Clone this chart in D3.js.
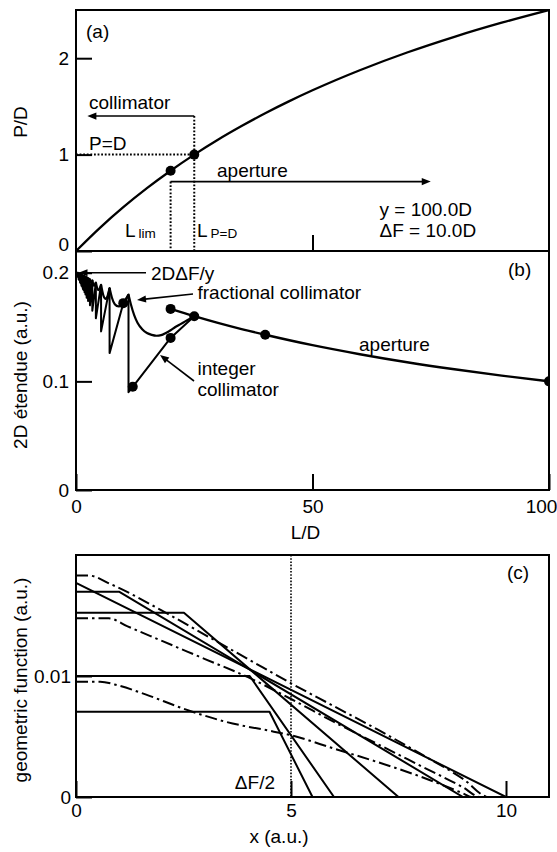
<!DOCTYPE html>
<html><head><meta charset="utf-8">
<script src="https://cdn.jsdelivr.net/npm/d3@7"></script>
<style>body{margin:0;background:#fff}</style>
</head><body>
<svg id="chart" width="557" height="852"></svg>
<script>
// ---------- DATA ----------
// Panel (a): P/D vs L/D
const ldA = [0,5,10,15,20,25,30,35,40,45,50,60,70,80,90,100];
const pdA = [0,0.238,0.455,0.652,0.833,1.0,1.154,1.296,1.429,1.552,1.667,1.875,2.059,2.222,2.368,2.5];
const dotA_L = [20,25];
const dotA_P = [0.833,1.0];
const tickA_Y = [0,1,2], tickA_Ylab = ['0','1','2'];
const tickA_X = [50];

// Panel (b): 2D etendue vs L/D
const apL = [20,25,30,35,40,50,60,70,80,90,100];
const apE = [0.1667,0.160,0.1538,0.1481,0.1429,0.1333,0.125,0.1176,0.1111,0.1053,0.100];
const apDotL = [20,25,40,100];
const apDotE = [0.1667,0.160,0.1429,0.100];
const intL = [0,0.25,0.25,0.4,0.4,0.55,0.55,0.7,0.7,0.85,0.85,1.0,1.0,1.15,1.15,1.3,1.3,1.45,1.45,1.6,1.6,1.8,1.8,2.0,2.0,2.25,2.25,2.55,2.55,2.95,2.95,3.45,3.45,4.2,4.2,5.3,5.3,7.1,7.1,10,11.1,11.1,12,20,25];
const intE = [0.2,0.2,0.197,0.2,0.196,0.199,0.194,0.199,0.193,0.199,0.191,0.198,0.190,0.198,0.188,0.198,0.187,0.197,0.185,0.197,0.184,0.197,0.182,0.196,0.180,0.196,0.177,0.195,0.174,0.194,0.170,0.193,0.165,0.191,0.158,0.189,0.146,0.186,0.126,0.172,0.180,0.090,0.095,0.140,0.160];
const intDotL = [10,12,20];
const intDotE = [0.172,0.095,0.140];
const fracL = [0,1.0,2.0,2.95,3.2,3.45,3.8,4.2,4.7,5.3,5.8,6.3,6.7,7.1,7.6,8.2,9.0,9.8,10.5,11.1,11.6,12.3,13,14,15,16,17,18,19,20,21,22,23,24,25];
const fracE = [0.2,0.198,0.196,0.194,0.191,0.193,0.188,0.191,0.184,0.189,0.179,0.176,0.179,0.186,0.177,0.171,0.169,0.170,0.175,0.180,0.171,0.161,0.154,0.148,0.1445,0.1428,0.142,0.1425,0.1445,0.147,0.150,0.1525,0.155,0.1575,0.160];
const fracCusps = [2.95,3.45,4.2,5.3,7.1,11.1];
const tickB_Y = [0,0.1,0.2], tickB_Ylab = ['0','0.1','0.2'];
const tickB_X = [0,50,100], tickB_Xlab = ['0','50','100'];

// Panel (c): geometric function vs x
const solidH = [0.00705,0.0100,0.01523,0.01697,0.0177];
const solidA = [4.5,4.04,2.51,1.0,0];
const solidB = [5.5,6.0,7.5,9.0,10];
const dd1X = [0,0.3,0.8,2,3,4,5,6,7,8,9,9.6,11];
const dd1Y = [0.0183,0.0183,0.0176,0.0154,0.0134,0.0114,0.0094,0.0075,0.0056,0.0036,0.0015,0,0];
const dd2X = [0,0.76,1.2,2,3,4,5,6,7,8,9,9.4,11];
const dd2Y = [0.01477,0.01477,0.0141,0.0129,0.0114,0.0099,0.0081,0.0062,0.0044,0.0026,0.0008,0,0];
const dd3X = [0,0.56,1,1.6,2.5,3.5,4.6,5,6,7,8,9,9.2,11];
const dd3Y = [0.00953,0.00953,0.0092,0.0085,0.0073,0.0062,0.0054,0.0051,0.0040,0.0029,0.0017,0.0003,0,0];
const tickC_Y = [0,0.01], tickC_Ylab = ['0','0.01'];
const tickC_X = [0,5,10], tickC_Xlab = ['0','5','10'];

// ---------- LAYOUT ----------
const FONT = '"Liberation Sans", Arial, Helvetica, sans-serif';
const FS = 19;
const L = 76, R = 549;
const pa = {top:10, bottom:251}, pb = {top:251, bottom:490}, pc = {top:555, bottom:797};

const xL = d3.scaleLinear().domain([0,100]).range([L,R]);
const yA = d3.scaleLinear().domain([0,2.5]).range([pa.bottom,pa.top]);
const yB = d3.scaleLinear().domain([0,0.22]).range([pb.bottom,pb.top]);
const xC = d3.scaleLinear().domain([0,11]).range([L,R]);
const yC = d3.scaleLinear().domain([0,0.02]).range([pc.bottom,pc.top]);

const svg = d3.select('#chart');
const defs = svg.append('defs');
[['clipA',pa],['clipB',pb],['clipC',pc]].forEach(([id,p])=>{
  defs.append('clipPath').attr('id',id).append('rect')
    .attr('x',L).attr('y',p.top).attr('width',R-L).attr('height',p.bottom-p.top);
});

function txt(g,x,y,s,opts={}){
  const t = g.append('text').attr('x',x).attr('y',y)
    .attr('font-family',FONT).attr('font-size',opts.size||FS)
    .attr('text-anchor',opts.anchor||'start').attr('fill','#000').text(s);
  if(opts.rot) t.attr('transform',`rotate(${opts.rot},${x},${y})`);
  return t;
}
function arrow(g,x1,y1,x2,y2){
  const len=9, hw=3.6;
  const dx=x2-x1, dy=y2-y1, d=Math.hypot(dx,dy), ux=dx/d, uy=dy/d;
  const bx=x2-ux*len, by=y2-uy*len;
  g.append('line').attr('x1',x1).attr('y1',y1).attr('x2',bx+ux*1).attr('y2',by+uy*1)
    .attr('stroke','#000').attr('stroke-width',1.6);
  g.append('path').attr('d',`M${x2},${y2}L${bx-uy*hw},${by+ux*hw}L${bx+uy*hw},${by-ux*hw}Z`).attr('fill','#000');
}
function styleAxis(g){
  g.attr('font-size',FS).attr('font-family',FONT);
  g.select('.domain').remove();
  g.selectAll('.tick line').attr('stroke','#000').attr('stroke-width',2);
  g.selectAll('.tick text').attr('fill','#000');
}
function linePath(g,xs,ys,xs_,ys_,clip,curve,sw,dash){
  const pts = xs.map((v,i)=>[v,ys[i]]);
  const gen = d3.line().x(d=>xs_(d[0])).y(d=>ys_(d[1])).curve(curve||d3.curveLinear);
  const p = g.append('path').attr('d',gen(pts)).attr('fill','none').attr('stroke','#000')
    .attr('stroke-width',sw||2.2).attr('stroke-linejoin','round').attr('clip-path',`url(#${clip})`);
  if(dash) p.attr('stroke-dasharray',dash);
  return p;
}
function dots(g,xs,ys,xs_,ys_,clip){
  g.selectAll(null).data(xs.map((v,i)=>[v,ys[i]])).enter().append('circle')
    .attr('cx',d=>xs_(d[0])).attr('cy',d=>ys_(d[1])).attr('r',5).attr('fill','#000')
    .attr('clip-path',`url(#${clip})`);
}

// ---------- PANEL (a) ----------
const gA = svg.append('g');
// dotted guides
gA.append('line').attr('x1',xL(0)).attr('x2',xL(25)).attr('y1',yA(1)).attr('y2',yA(1))
  .attr('stroke','#000').attr('stroke-width',2).attr('stroke-dasharray','1.8,1.8');
gA.append('line').attr('x1',xL(25)).attr('x2',xL(25)).attr('y1',yA(1.4)).attr('y2',yA(0))
  .attr('stroke','#000').attr('stroke-width',2).attr('stroke-dasharray','1.8,1.8');
gA.append('line').attr('x1',xL(20)).attr('x2',xL(20)).attr('y1',yA(0.72)).attr('y2',yA(0))
  .attr('stroke','#000').attr('stroke-width',2).attr('stroke-dasharray','1.8,1.8');
linePath(gA,ldA,pdA,xL,yA,'clipA',d3.curveMonotoneX,2.3);
dots(gA,dotA_L,dotA_P,xL,yA,'clipA');
arrow(gA,xL(25),yA(1.4),xL(2.4),yA(1.4));
arrow(gA,xL(20),yA(0.72),xL(75),yA(0.72));
txt(gA,86,38,'(a)');
txt(gA,89,109,'collimator');
txt(gA,89,150,'P=D');
txt(gA,217,177,'aperture');
const t1 = txt(gA,125,237,'L');
t1.append('tspan').attr('font-size',13.5).attr('dx',3).attr('dy',1).text('lim');
const t2 = txt(gA,197,237,'L');
t2.append('tspan').attr('font-size',13.5).attr('dx',3).attr('dy',1).text('P=D');
txt(gA,379.5,216,'y = 100.0D');
txt(gA,379.5,237,'\u0394F = 10.0D');
// axes
const axA = gA.append('g').attr('transform',`translate(${L},0)`)
  .call(d3.axisLeft(yA).tickValues(tickA_Y).tickFormat((d,i)=>tickA_Ylab[i]).tickSize(-16).tickPadding(7));
styleAxis(axA);
axA.selectAll('.tick text').filter(d=>d===0).attr('dy','-0.05em');
const axAx = gA.append('g').attr('transform',`translate(0,${pa.bottom})`)
  .call(d3.axisBottom(xL).tickValues(tickA_X).tickFormat('').tickSize(-16));
styleAxis(axAx);
txt(gA,27,122,'P/D',{anchor:'middle',rot:-90});

// ---------- PANEL (b) ----------
const gB = svg.append('g');
// fractional collimator split at cusps
{
  const bounds=[0,...fracCusps,25];
  for(let k=0;k<bounds.length-1;k++){
    const xs=[],ys=[];
    fracL.forEach((v,i)=>{ if(v>=bounds[k]&&v<=bounds[k+1]){xs.push(v);ys.push(fracE[i]);} });
    if(xs.length>1) linePath(gB,xs,ys,xL,yB,'clipB',xs.length>2?d3.curveMonotoneX:d3.curveLinear,2.2);
  }
}
linePath(gB,intL,intE,xL,yB,'clipB',d3.curveLinear,2.0);
linePath(gB,apL,apE,xL,yB,'clipB',d3.curveMonotoneX,2.4);
dots(gB,apDotL,apDotE,xL,yB,'clipB');
dots(gB,intDotL,intDotE,xL,yB,'clipB');
arrow(gB,146,yB(0.2),78.5,yB(0.2));
txt(gB,151,280,'2D\u0394F/y');
txt(gB,508,276,'(b)');
arrow(gB,193,294,137,300);
txt(gB,197.5,299,'fractional collimator');
txt(gB,359,351,'aperture');
arrow(gB,194,381,160,355);
txt(gB,197.5,375,'integer');
txt(gB,197.5,396,'collimator');
const axB = gB.append('g').attr('transform',`translate(${L},0)`)
  .call(d3.axisLeft(yB).tickValues(tickB_Y).tickFormat((d,i)=>tickB_Ylab[i]).tickSize(-16).tickPadding(7));
styleAxis(axB);
const axBx = gB.append('g').attr('transform',`translate(0,${pb.bottom})`)
  .call(d3.axisBottom(xL).tickValues(tickB_X).tickFormat((d,i)=>tickB_Xlab[i]).tickSize(-16).tickPadding(10));
styleAxis(axBx);
axBx.selectAll('.tick text').filter(d=>d===100).attr('dx',-8);
txt(gB,305.5,539,'L/D',{anchor:'middle'});
txt(gB,27,375,'2D \u00e9tendue (a.u.)',{anchor:'middle',rot:-90});

// ---------- PANEL (c) ----------
const gC = svg.append('g');
gC.append('line').attr('x1',xC(5)).attr('x2',xC(5)).attr('y1',pc.top).attr('y2',pc.bottom)
  .attr('stroke','#000').attr('stroke-width',1.6).attr('stroke-dasharray','1.6,1.6');
solidH.forEach((h,i)=>{
  const xs = solidA[i]>0 ? [0,solidA[i],solidB[i],11] : [0,solidB[i],11];
  const ys = solidA[i]>0 ? [h,h,0,0] : [h,0,0];
  linePath(gC,xs,ys,xC,yC,'clipC',d3.curveLinear,2.0);
});
[[dd1X,dd1Y],[dd2X,dd2Y],[dd3X,dd3Y]].forEach(([xs,ys])=>{
  linePath(gC,xs,ys,xC,yC,'clipC',d3.curveMonotoneX,2.0,'12,4,2.5,4');
});
txt(gC,507,579,'(c)');
txt(gC,275,789,'\u0394F/2',{anchor:'end'});
const axC = gC.append('g').attr('transform',`translate(${L},0)`)
  .call(d3.axisLeft(yC).tickValues(tickC_Y).tickFormat((d,i)=>tickC_Ylab[i]).tickSize(-16).tickPadding(5));
styleAxis(axC);
const axCx = gC.append('g').attr('transform',`translate(0,${pc.bottom})`)
  .call(d3.axisBottom(xC).tickValues(tickC_X).tickFormat((d,i)=>tickC_Xlab[i]).tickSize(-16).tickPadding(7));
styleAxis(axCx);
txt(gC,279,843,'x (a.u.)',{anchor:'middle'});
txt(gC,27,680,'geometric function (a.u.)',{anchor:'middle',rot:-90});

// ---------- FRAMES ----------
[pa,pb,pc].forEach(p=>{
  svg.append('rect').attr('x',L).attr('y',p.top).attr('width',R-L).attr('height',p.bottom-p.top)
    .attr('fill','none').attr('stroke','#000').attr('stroke-width',2);
});
</script>
</body></html>
